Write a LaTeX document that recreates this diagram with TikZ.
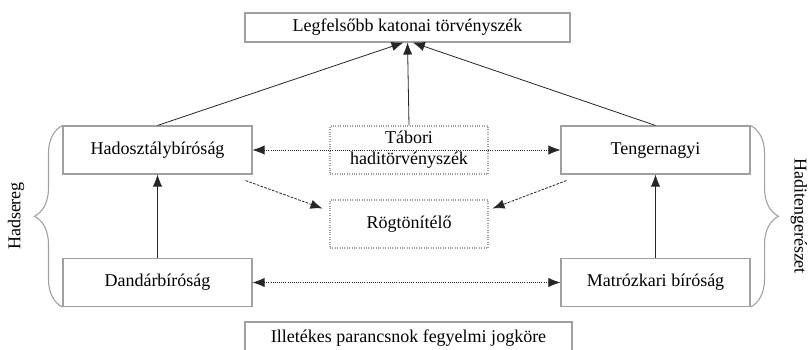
\documentclass[tikz,border=0pt]{standalone}
\usepackage{fontspec}
\setmainfont{Liberation Serif}
\usetikzlibrary{arrows.meta,decorations.pathreplacing}
\definecolor{boxgray}{HTML}{A0A0A0}
\definecolor{linegray}{HTML}{262626}
\tikzset{
  court/.style={draw=boxgray, line width=0.8pt, minimum width=141.75pt, minimum height=36pt, inner sep=0pt, font=\fontsize{13.5}{15}\selectfont},
  fieldcourt/.style={court, densely dotted, minimum width=118.5pt, align=center},
  up/.style={draw=linegray, line width=0.6pt, -{Latex[length=9pt,width=7pt]}},
  peer/.style={draw=linegray, line width=0.6pt, densely dotted, {Latex[length=9pt,width=7pt]}-{Latex[length=9pt,width=7pt]}},
  side/.style={draw=linegray, line width=0.6pt, dash pattern=on 2pt off 1pt, -{Latex[length=9pt,width=7pt]}},
  wing/.style={draw=boxgray, line width=0.8pt, decorate, decoration={brace, amplitude=21pt}},
}
\begin{document}
\begin{tikzpicture}[x=0.75pt, y=-0.75pt]
  \useasboundingbox (0,0) rectangle (811,350);
  % top level
  \node [court, minimum width=243.75pt, minimum height=21.75pt] (supreme) at (407.5,27.5) {Legfelsőbb katonai törvényszék};
  % army and navy courts
  \node [court] (division) at (157.5,150) {Hadosztálybíróság};
  \node [court] (brigade) at (157.5,282.5) {Dandárbíróság};
  \node [court] (admiral) at (655.5,150) {Tengernagyi};
  \node [court] (sailor) at (655.5,282.5) {Matrózkari bíróság};
  % special courts
  \node [fieldcourt, font=\fontsize{13.5}{16}\selectfont] (field) at (409,150) {Tábori\\haditörvényszék};
  \node [fieldcourt] (summary) at (409,224) {Rögtönítélő};
  \node [court, minimum width=245.25pt, minimum height=24pt] (commander) at (408.5,338) {Illetékes parancsnok fegyelmi jogköre};
  % appeals
  \draw [up] (division.north) -- ([xshift=-3]supreme.south);
  \draw [up] (field.north) -- (supreme.south);
  \draw [up] (admiral.north) -- ([xshift=4]supreme.south);
  \draw [up] (brigade.north) -- (division.south);
  \draw [up] (sailor.north) -- (admiral.south);
  \draw [peer] (division.east) -- (admiral.west);
  \draw [peer] (brigade.east) -- (sailor.west);
  \draw [side] ([shift={(-7,6)}]division.south east) -- ([shift={(-7,9)}]summary.north west);
  \draw [side] ([shift={(6,6)}]admiral.south west) -- ([shift={(4,9)}]summary.north east);
  % branches
  \draw [wing] (brigade.south west) -- (division.north west);
  \draw [wing] (admiral.north east) -- (sailor.south east);
  \node [rotate=90, font=\fontsize{13.5}{15}\selectfont] (army) at (16,216) {Hadsereg};
  \node [rotate=-90, font=\fontsize{13.5}{15}\selectfont] (navy) at (799,216) {Haditengerészet};
\end{tikzpicture}
\end{document}
